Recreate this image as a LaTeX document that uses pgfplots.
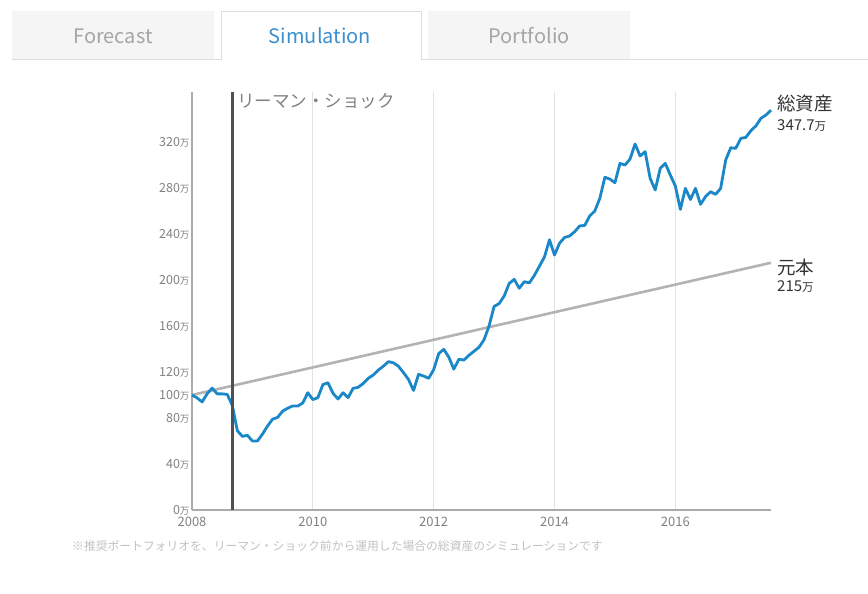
\documentclass[border=0pt]{standalone}
\usepackage{fontspec}
\setmainfont{Noto Sans CJK JP}
\usepackage{pgfplots}
\usepackage{pgfplotstable}
\pgfplotsset{compat=1.18}
\definecolor{lineblue}{HTML}{1A87C8}
\definecolor{prin}{HTML}{B3B3B3}
\definecolor{lehman}{HTML}{505050}
\definecolor{gridc}{HTML}{E2E2E2}
\definecolor{axisc}{HTML}{ABABAB}
\definecolor{tickc}{HTML}{828282}
\definecolor{tabbg}{HTML}{F5F5F5}
\definecolor{tabline}{HTML}{DDDDDD}
\definecolor{tabtxt}{HTML}{A5A5A5}
\definecolor{tabblue}{HTML}{3C90D0}
\definecolor{notec}{HTML}{C2C2C2}
\definecolor{labc}{HTML}{333333}
\pgfplotstableread{
m v
0 100
1 97.5
2 94
3 101
4 106
5 101
6 101
7 100.5
8 91
9 69
10 64
11 65
12 60
13 60
14 66
15 73
16 79
17 80.5
18 86
19 88.5
20 90.5
21 90.4
22 93
23 102
24 96
25 97.7
26 109
27 110.7
28 101.5
29 96.5
30 102
31 97.7
32 105.8
33 106.7
34 110
35 114.5
36 117.4
37 121.7
38 125
39 129
40 128
41 125
42 119.5
43 113.5
44 104
45 118
46 116.5
47 114.5
48 122
49 136
50 139.7
51 133
52 122.5
53 131
54 130.4
55 134.5
56 138
57 141.5
58 148
59 160
60 177
61 179.5
62 186
63 197
64 200.6
65 192.8
66 198.5
67 197.5
68 204
69 212
70 220
71 235
72 221.7
73 232
74 237
75 238.3
76 242
77 247
78 247.5
79 255.7
80 260
81 271
82 289.3
83 287.8
84 284.6
85 301.4
86 300
87 305.2
88 318.3
89 307.8
90 311.6
91 288.4
92 278.3
93 297
94 301.4
95 291.3
96 281.7
97 261.4
98 279.7
99 270
100 279.7
101 265.8
102 272.5
103 276.8
104 274.5
105 279.7
106 304.3
107 315
108 314.5
109 323.2
110 324
111 329.8
112 334
113 340.6
114 343.5
115 347.7
}\totalasset
\pgfplotstableread{
m v
0 100
115 215
}\principal
\newcommand{\man}{{\fontsize{9.5}{9.5}\selectfont 万}}
\begin{document}
\begin{tikzpicture}[x=1pt,y=1pt]
\useasboundingbox (0,0) rectangle (868,594);
\fill[white] (0,0) rectangle (868,594);
% tabs
\fill[tabbg] (12,534) rectangle (214,583);
\fill[tabbg] (428,534) rectangle (630,583);
\draw[tabline,line width=1pt] (12,534) -- (221,534);
\draw[tabline,line width=1pt] (421,534) -- (868,534);
\draw[tabline,line width=0.8pt] (221,534) -- (221,583) -- (421,583) -- (421,534);
\node[text=tabtxt,font=\fontsize{20}{20}\selectfont] at (113,558) {Forecast};
\node[text=tabblue,font=\fontsize{20}{20}\selectfont] at (320,558) {Simulation};
\node[text=tabtxt,font=\fontsize{20}{20}\selectfont] at (529,558) {Portfolio};
\begin{axis}[
  at={(192pt,84pt)}, anchor=south west,
  scale only axis, width=579pt, height=418pt,
  xmin=0, xmax=115, ymin=0, ymax=363.5,
  axis x line*=bottom, axis y line*=left,
  axis line style={axisc,line width=1.6pt},
  every inner x axis line/.append style={-},
  every inner y axis line/.append style={-},
  xtick={0,24,48,72,96},
  xticklabels={2008,2010,2012,2014,2016},
  ytick={0,40,80,100,120,160,200,240,280,320},
  yticklabels={0\man,40\man,80\man,100\man,120\man,160\man,200\man,240\man,280\man,320\man},
  major tick length=0pt,
  x tick label style={text=tickc,font=\fontsize{13}{13}\selectfont,yshift=-3.5pt},
  y tick label style={text=tickc,font=\fontsize{12.5}{12.5}\selectfont,xshift=1pt},
  xmajorgrids, ymajorgrids=false,
  grid style={gridc,line width=1.2pt},
  clip=false,
]
\addplot[prin,line width=2.6pt] table[x=m,y=v]{\principal};
\addplot[lineblue,line width=2.8pt,line join=round] table[x=m,y=v]{\totalasset};
\draw[lehman,line width=2.6pt] (axis cs:8,0) -- (axis cs:8,363.5);
\node[anchor=north west,text=tickc,font=\fontsize{17.5}{17.5}\selectfont,inner sep=0pt] at ([xshift=5pt,yshift=-1pt]axis cs:8,363.5) {リーマン・ショック};
\end{axis}
\node[anchor=west,text=labc,font=\fontsize{18.5}{18.5}\selectfont,inner sep=0pt] at (777,491) {総資産};
\node[anchor=west,text=labc,font=\fontsize{15}{15}\selectfont,inner sep=0pt] at (777,468) {347.7{\fontsize{11.5}{11.5}\selectfont 万}};
\node[anchor=west,text=labc,font=\fontsize{18.5}{18.5}\selectfont,inner sep=0pt] at (777,327) {元本};
\node[anchor=west,text=labc,font=\fontsize{15}{15}\selectfont,inner sep=0pt] at (777,307) {215{\fontsize{11.5}{11.5}\selectfont 万}};
\node[anchor=west,text=notec,font=\fontsize{11.8}{11.8}\selectfont,inner sep=0pt] at (72,48) {※推奨ポートフォリオを、リーマン・ショック前から運用した場合の総資産のシミュレーションです};
\end{tikzpicture}
\end{document}
